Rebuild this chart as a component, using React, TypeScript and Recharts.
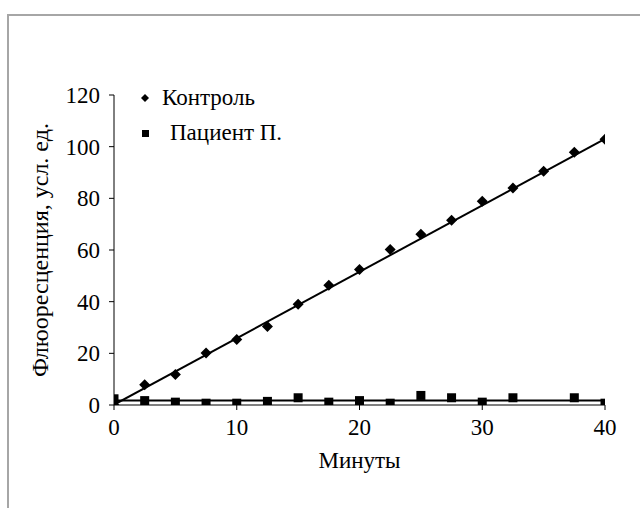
import React from 'react';
import { ScatterChart, Scatter, XAxis, YAxis, Legend } from 'recharts';

const minutes = [0, 2.5, 5, 7.5, 10, 12.5, 15, 17.5, 20, 22.5, 25, 27.5, 30, 32.5, 35, 37.5, 40];
const controlValues = [0, 7.8, 11.8, 20.1, 25.4, 30.4, 39.0, 46.4, 52.5, 60.2, 66.1, 71.5, 78.9, 84.0, 90.5, 97.8, 102.9];
const patientMinutes = [0, 2.5, 5, 7.5, 10, 12.5, 15, 17.5, 20, 22.5, 25, 27.5, 30, 32.5, 37.5, 40];
const patientValues = [2.4, 1.7, 1.1, 0.7, 0.7, 1.4, 2.8, 1.1, 1.7, 0.7, 3.7, 2.8, 1.1, 2.8, 2.8, 0.7];
const trendMinutes = [0, 40];
const controlTrend = [0.1, 103.0];
const patientTrend = [1.75, 1.75];
const xTicks = [0, 10, 20, 30, 40];
const yTicks = [0, 20, 40, 60, 80, 100, 120];
const seriesNames = ['Контроль', 'Пациент П.'];
const xTitle = 'Минуты';
const yTitle = 'Флюоресценция, усл. ед.';

const FONT = "'Liberation Serif', 'Times New Roman', 'DejaVu Serif', serif";
const FS = 23;

const controlData = minutes.map((x, i) => ({ x, y: controlValues[i] }));
const patientData = patientMinutes.map((x, i) => ({ x, y: patientValues[i] }));
const controlTrendData = trendMinutes.map((x, i) => ({ x, y: controlTrend[i] }));
const patientTrendData = trendMinutes.map((x, i) => ({ x, y: patientTrend[i] }));

const DiamondShape = (props: any) => {
  const { cx, cy } = props;
  if (cx == null || cy == null) return <g />;
  const r = 5.5;
  return (
    <polygon
      points={`${cx},${cy - r} ${cx + r},${cy} ${cx},${cy + r} ${cx - r},${cy}`}
      fill="#000"
    />
  );
};

const SquareShape = (props: any) => {
  const { cx, cy } = props;
  if (cx == null || cy == null) return <g />;
  const s = 9;
  return <rect x={cx - s / 2} y={cy - s / 2} width={s} height={s} fill="#000" />;
};

const NoShape = () => <g />;

const LegendContent = () => (
  <div style={{ fontFamily: FONT, fontSize: FS, color: '#000' }}>
    <div style={{ display: 'flex', alignItems: 'center', height: 35 }}>
      <svg width={14} height={14} style={{ marginRight: 10 }}>
        <polygon points="7,3 11,7 7,11 3,7" fill="#000" />
      </svg>
      <span>{seriesNames[0]}</span>
    </div>
    <div style={{ display: 'flex', alignItems: 'center', height: 35 }}>
      <svg width={14} height={14} style={{ marginRight: 18 }}>
        <rect x={4} y={4} width={7} height={7} fill="#000" />
      </svg>
      <span>{seriesNames[1]}</span>
    </div>
  </div>
);

export default function App() {
  return (
    <div
      style={{
        position: 'absolute',
        left: 0,
        top: 0,
        width: 640,
        height: 508,
        overflow: 'hidden',
        background: '#fff',
        fontFamily: FONT,
      }}
    >
      <div
        style={{
          position: 'absolute',
          left: 7,
          top: 14,
          width: 800,
          height: 700,
          border: '2px solid #a6a6a6',
          boxSizing: 'border-box',
        }}
      />
      <div style={{ position: 'absolute', left: 0, top: 0 }}>
        <ScatterChart
          width={640}
          height={508}
          margin={{ top: 95, right: 35, bottom: 33, left: 0 }}
          style={{ fontFamily: FONT }}
        >
          <XAxis
            type="number"
            dataKey="x"
            domain={[0, 40]}
            ticks={xTicks}
            allowDataOverflow
            height={70}
            axisLine={{ stroke: '#000', strokeWidth: 1 }}
            tickLine={{ stroke: '#000', strokeWidth: 1 }}
            tickSize={5}
            tickMargin={9}
            tick={{ fill: '#000', fontSize: FS, fontFamily: FONT }}
            label={{
              value: xTitle,
              position: 'insideBottom',
              offset: 7,
              style: { fill: '#000', fontSize: FS, fontFamily: FONT },
            }}
          />
          <YAxis
            type="number"
            dataKey="y"
            domain={[0, 120]}
            ticks={yTicks}
            allowDataOverflow
            width={114}
            axisLine={{ stroke: '#000', strokeWidth: 1 }}
            tickLine={{ stroke: '#000', strokeWidth: 1 }}
            tickSize={5}
            tickMargin={9}
            tick={{ fill: '#000', fontSize: FS, fontFamily: FONT }}
            label={{
              value: yTitle,
              angle: -90,
              position: 'insideLeft',
              offset: 39,
              style: { fill: '#000', fontSize: 24, fontFamily: FONT, textAnchor: 'middle' },
            }}
          />
          <Legend
            layout="vertical"
            align="center"
            verticalAlign="middle"
            wrapperStyle={{ left: 138, top: 80, width: 230, height: 70 }}
            content={<LegendContent />}
          />
          <Scatter
            name="Контроль тренд"
            data={controlTrendData}
            line={{ stroke: '#000', strokeWidth: 2 }}
            shape={<NoShape />}
            legendType="none"
            isAnimationActive={false}
          />
          <Scatter
            name="Пациент тренд"
            data={patientTrendData}
            line={{ stroke: '#000', strokeWidth: 2 }}
            shape={<NoShape />}
            legendType="none"
            isAnimationActive={false}
          />
          <Scatter
            name={seriesNames[1]}
            data={patientData}
            shape={<SquareShape />}
            fill="#000"
            isAnimationActive={false}
          />
          <Scatter
            name={seriesNames[0]}
            data={controlData}
            shape={<DiamondShape />}
            fill="#000"
            isAnimationActive={false}
          />
        </ScatterChart>
      </div>
    </div>
  );
}
